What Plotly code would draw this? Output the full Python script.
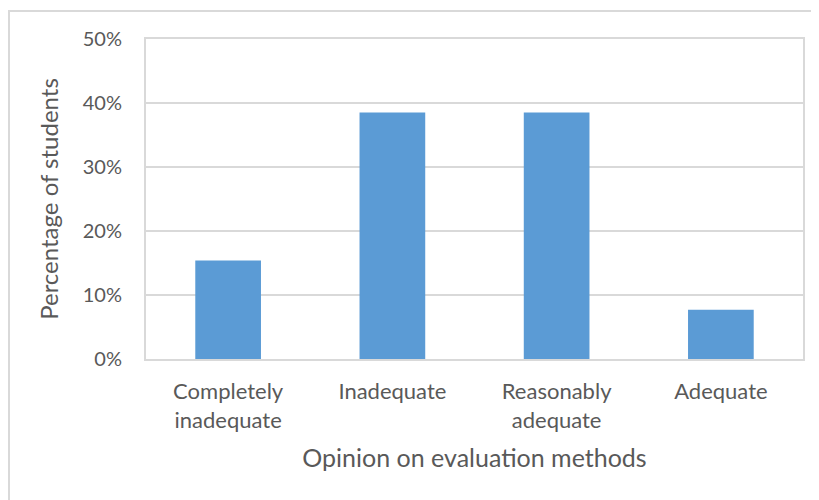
import plotly.graph_objects as go

categories = ["Completely<br>inadequate", "Inadequate", "Reasonably<br>adequate", "Adequate"]
values = [0.154, 0.385, 0.385, 0.077]
y_ticks = [0, 0.1, 0.2, 0.3, 0.4, 0.5]
y_tick_labels = ["0%", "10%", "20%", "30%", "40%", "50%"]

FONT = "Lato"
GREY = "#595959"

fig = go.Figure(go.Bar(x=categories, y=values, marker=dict(color="#5b9bd5", line=dict(width=0)),
                       width=0.4, hoverinfo="skip"))

fig.update_layout(
    width=819, height=500,
    margin=dict(l=138, r=24, t=31, b=149, autoexpand=False),
    paper_bgcolor="white", plot_bgcolor="white",
    font=dict(family=FONT, color=GREY, size=21),
    showlegend=False,
    xaxis=dict(showgrid=False, showline=True, linecolor="#d9d9d9", linewidth=2, mirror=True,
               ticks="", tickfont=dict(size=22, color=GREY), automargin=False, ticklabelstandoff=12,
               title=dict(text="Opinion on evaluation methods", font=dict(size=25, color=GREY), standoff=17)),
    yaxis=dict(range=[0, 0.5], tickvals=y_ticks, ticktext=y_tick_labels,
               showgrid=True, gridcolor="#d9d9d9", gridwidth=2,
               showline=True, linecolor="#d9d9d9", linewidth=2, mirror=True, automargin=False,
               ticks="", ticklabelstandoff=18, tickfont=dict(size=20, color=GREY), zeroline=False,
               title=dict(text="Percentage of students", font=dict(size=24, color=GREY), standoff=17)),
    shapes=[dict(type="rect", xref="paper", yref="paper", x0=-0.2085, x1=1.05, y0=-0.6, y1=1.0875,
                 line=dict(color="#d9d9d9", width=2), layer="below")],
)

fig.write_html("out.html")
